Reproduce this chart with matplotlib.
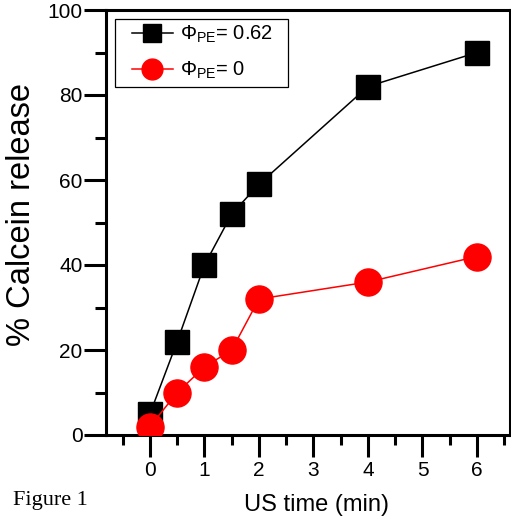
import matplotlib
matplotlib.use("Agg")
import matplotlib.pyplot as plt
from matplotlib.ticker import MultipleLocator, FixedLocator
from matplotlib.patches import Rectangle
from matplotlib.transforms import IdentityTransform

plt.rcParams['font.family'] = ['Liberation Sans', 'DejaVu Sans']
plt.rcParams['mathtext.fontset'] = 'custom'
plt.rcParams['mathtext.rm'] = 'Liberation Sans'
plt.rcParams['mathtext.it'] = 'Liberation Sans:italic'
plt.rcParams['mathtext.bf'] = 'Liberation Sans:bold'

# Data
time_pe062 = [0, 0.5, 1, 1.5, 2, 4, 6]
release_pe062 = [5, 22, 40, 52, 59, 82, 90]
time_pe0 = [0, 0.5, 1, 1.5, 2, 4, 6]
release_pe0 = [2, 10, 16, 20, 32, 36, 42]
label_pe062 = r'$\Phi_{\mathrm{PE}}$= 0.62'
label_pe0 = r'$\Phi_{\mathrm{PE}}$= 0'
x_major = [0, 1, 2, 3, 4, 5, 6]
x_minor = [-0.5, 0.5, 1.5, 2.5, 3.5, 4.5, 5.5, 6.5]

W, H = 511, 517
fig = plt.figure(figsize=(W / 100, H / 100), dpi=100)
ax = fig.add_axes([106 / W, (H - 435) / H, (510 - 106) / W, (435 - 10) / H])

ax.plot(time_pe062, release_pe062, color='black', lw=1.1, marker='s',
        ms=17, mfc='black', mec='black', label=label_pe062, zorder=3)
ax.plot(time_pe0, release_pe0, color='#ff0000', lw=1.1, marker='o',
        ms=19.5, mfc='#ff0000', mec='#ff0000', label=label_pe0, zorder=4)

ax.set_xlim(-0.807, 6.606)
ax.set_ylim(0, 100)
ax.xaxis.set_major_locator(FixedLocator(x_major))
ax.xaxis.set_minor_locator(FixedLocator(x_minor))
ax.yaxis.set_major_locator(MultipleLocator(20))
ax.yaxis.set_minor_locator(MultipleLocator(10))

lw_ax = 2.2
for s in ax.spines.values():
    s.set_linewidth(lw_ax)
ax.tick_params(axis='both', which='both', direction='out', width=lw_ax,
               top=False, right=False, labelsize=15, colors='black')
ax.tick_params(axis='x', which='major', length=16, pad=3)
ax.tick_params(axis='x', which='minor', length=7.5)
ax.tick_params(axis='y', which='major', length=15.5, pad=1.5)
ax.tick_params(axis='y', which='minor', length=8)

leg = ax.legend(loc='center left', bbox_to_anchor=(132 / W, 1 - 52.5 / H),
                bbox_transform=fig.transFigure, borderaxespad=0, borderpad=0,
                frameon=False, fontsize=14.5, handlelength=2.03,
                handletextpad=0.35, labelspacing=0.72, markerscale=0.77)
leg.set_zorder(7)

fig.text(22 / W, 1 - 214 / H, '% Calcein release', rotation=90,
         ha='center', va='center', fontsize=23.5)
fig.text(316.5 / W, 1 - 511 / H, 'US time (min)', ha='center', va='baseline',
         fontsize=17)
fig.text(13 / W, 1 - 505 / H, 'Figure 1', ha='left', va='baseline',
         fontsize=16, family=['Liberation Serif', 'DejaVu Serif'])

# legend frame with separate horizontal / vertical padding
fig.canvas.draw()
bb = leg.get_window_extent()
padv = 34 - bb.height / 2
frame = Rectangle((bb.x0 - 17, bb.y0 - padv), bb.width + 32, bb.height + 2 * padv,
                  transform=IdentityTransform(), facecolor='white',
                  edgecolor='black', lw=0.9, zorder=6, clip_on=False)
ax.add_artist(frame)

fig.savefig('out.png', dpi=100)
